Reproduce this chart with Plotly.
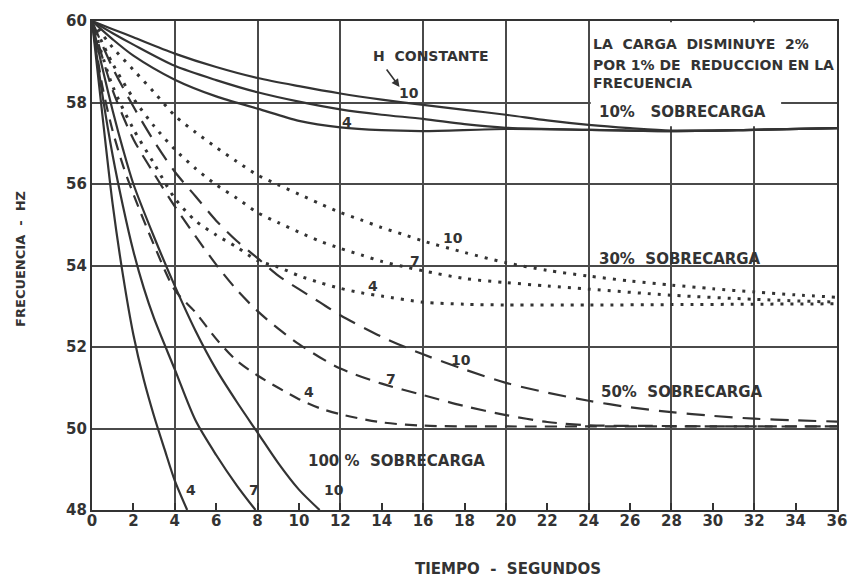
import plotly.graph_objects as go

# ---------------- data ----------------
x_tick_vals = [0, 2, 4, 6, 8, 10, 12, 14, 16, 18, 20, 22, 24, 26, 28, 30, 32, 34, 36]
x_tick_text = ["0", "2", "4", "6", "8", "10", "12", "14", "16", "18", "20", "22",
               "24", "26", "28", "30", "32", "34", "36"]
y_tick_vals = [48, 50, 52, 54, 56, 58, 60]
y_tick_text = ["48", "50", "52", "54", "56", "58", "60"]

# 10 % sobrecarga (solid)
t_10_h4 = [0, 1, 2, 4, 6, 8, 10, 12, 14, 16, 20, 24, 28, 32, 36]
f_10_h4 = [60, 59.55, 59.15, 58.56, 58.15, 57.85, 57.55, 57.39, 57.32, 57.3, 57.35, 57.33, 57.3, 57.33, 57.37]
t_10_h7 = [0, 1, 2, 4, 6, 8, 10, 12, 14, 16, 18, 20, 24, 28, 32, 36]
f_10_h7 = [60, 59.7, 59.42, 58.9, 58.55, 58.25, 58.02, 57.83, 57.7, 57.6, 57.47, 57.38, 57.33, 57.3, 57.33, 57.37]
t_10_h10 = [0, 1, 2, 4, 6, 8, 10, 12, 14, 16, 18, 20, 22, 24, 26, 28, 32, 36]
f_10_h10 = [60, 59.8, 59.6, 59.2, 58.87, 58.6, 58.4, 58.22, 58.07, 57.94, 57.82, 57.7, 57.56, 57.45, 57.37, 57.31, 57.33, 57.37]

# 30 % sobrecarga (dotted)
t_30_h4 = [0, 1, 2, 3, 4, 5, 6, 7, 8, 9, 10, 11, 12, 13, 14, 16, 18, 20, 24, 28, 32, 36]
f_30_h4 = [60, 58.4, 57.35, 56.5, 55.65, 55.1, 54.75, 54.45, 54.12, 53.96, 53.75, 53.58, 53.44, 53.33, 53.25,
           53.1, 53.05, 53.03, 53.03, 53.04, 53.05, 53.06]
t_30_h7 = [0, 1, 2, 3, 4, 5, 6, 7, 8, 9, 10, 11, 12, 13, 14, 15, 16, 18, 20, 22, 24, 28, 32, 36]
f_30_h7 = [60, 58.95, 58.1, 57.42, 56.85, 56.38, 55.98, 55.65, 55.3, 55.05, 54.82, 54.6, 54.42, 54.26, 54.1,
           53.98, 53.87, 53.68, 53.58, 53.5, 53.42, 53.27, 53.17, 53.1]
t_30_h10 = [0, 1, 2, 3, 4, 5, 6, 7, 8, 9, 10, 11, 12, 13, 14, 15, 16, 18, 20, 22, 24, 26, 28, 30, 32, 34, 36]
f_30_h10 = [60, 59.35, 58.8, 58.25, 57.68, 57.27, 56.9, 56.55, 56.22, 55.98, 55.75, 55.52, 55.3, 55.12, 54.93,
            54.77, 54.6, 54.32, 54.07, 53.88, 53.74, 53.62, 53.52, 53.43, 53.35, 53.28, 53.22]

# 50 % sobrecarga (dashed)
t_50_h4 = [0, 0.5, 1, 1.5, 2, 3, 4, 5, 6, 7, 8, 9, 10, 11, 12, 14, 16, 20, 24, 28, 32, 36]
f_50_h4 = [60, 58.4, 57.3, 56.45, 55.75, 54.5, 53.4, 52.85, 52.2, 51.66, 51.3, 51.0, 50.72, 50.5, 50.35,
           50.15, 50.07, 50.05, 50.05, 50.05, 50.05, 50.05]
t_50_h7 = [0, 1, 2, 3, 4, 5, 6, 7, 8, 9, 10, 11, 12, 14, 16, 18, 20, 22, 24, 28, 32, 36]
f_50_h7 = [60, 58.3, 57.1, 56.25, 55.45, 54.72, 54.02, 53.4, 52.88, 52.45, 52.07, 51.75, 51.47, 51.1,
           50.82, 50.55, 50.33, 50.16, 50.08, 50.06, 50.05, 50.05]
t_50_h10 = [0, 1, 2, 3, 4, 5, 6, 7, 8, 9, 10, 11, 12, 14, 16, 18, 20, 22, 24, 26, 28, 30, 32, 34, 36]
f_50_h10 = [60, 58.85, 57.9, 57.05, 56.3, 55.7, 55.1, 54.6, 54.18, 53.75, 53.42, 53.1, 52.78, 52.25,
            51.82, 51.45, 51.12, 50.88, 50.68, 50.52, 50.4, 50.31, 50.24, 50.2, 50.17]

# 100 % sobrecarga (solid)
t_100_h4 = [0, 0.5, 1.0, 1.5, 2.0, 2.5, 3.0, 3.5, 4.0, 4.6]
f_100_h4 = [60, 57.7, 55.5, 53.75, 52.3, 51.2, 50.3, 49.5, 48.72, 48.0]
t_100_h7 = [0, 0.5, 1.0, 1.5, 2.0, 2.5, 3.0, 4.0, 5.0, 6.0, 7.0, 7.9]
f_100_h7 = [60, 58.2, 56.7, 55.45, 54.35, 53.45, 52.7, 51.45, 50.2, 49.35, 48.6, 48.0]
t_100_h10 = [0, 0.5, 1, 1.5, 2, 3, 4, 5, 6, 7, 8, 9, 10, 11]
f_100_h10 = [60, 58.85, 57.8, 56.85, 56.0, 54.7, 53.5, 52.4, 51.45, 50.65, 49.9, 49.15, 48.5, 48.0]

# ---------------- styling ----------------
INK = "#333333"
GRID = "#4a4a4a"
FONT = "DejaVu Sans"

# (name, x, y, dash, width, x-axis)
curves = [
    ("10% H=4", t_10_h4, f_10_h4, "solid", 2.2, "x"),
    ("10% H=7", t_10_h7, f_10_h7, "solid", 2.2, "x"),
    ("10% H=10", t_10_h10, f_10_h10, "solid", 2.2, "x"),
    ("30% H=4", t_30_h4, f_30_h4, "3px,7px", 3, "x"),
    ("30% H=7", t_30_h7, f_30_h7, "3px,7px", 3, "x"),
    ("30% H=10", t_30_h10, f_30_h10, "3px,7px", 3, "x"),
    ("50% H=4", t_50_h4, f_50_h4, "12px,8px", 2.2, "x"),
    ("50% H=7", t_50_h7, f_50_h7, "15px,9px", 2.2, "x"),
    ("50% H=10", t_50_h10, f_50_h10, "18px,10px", 2.2, "x"),
    ("100% H=4", t_100_h4, f_100_h4, "solid", 2.2, "x2"),
    ("100% H=7", t_100_h7, f_100_h7, "solid", 2.2, "x2"),
    ("100% H=10", t_100_h10, f_100_h10, "solid", 2.2, "x2"),
]

fig = go.Figure()
for name, t, f, dash, w, xa in curves:
    fig.add_trace(go.Scatter(
        x=t, y=f, mode="lines", name=name, showlegend=False, xaxis=xa, yaxis="y",
        line=dict(color=INK, width=w, dash=dash, shape="spline", smoothing=0.8),
        hoverinfo="skip",
    ))

# white box behind the note in the upper-right corner (hides grid lines)
fig.add_shape(type="rect", xref="x", yref="y", x0=24.1, x1=33.3, y0=57.42, y1=59.97,
              fillcolor="white", line=dict(width=0), layer="between")

tick_font = dict(family=FONT, size=15, color=INK, weight="bold")
fig.update_layout(
    width=859, height=584,
    margin=dict(l=92, r=18, t=15, b=74),
    paper_bgcolor="white", plot_bgcolor="white",
    font=dict(family=FONT, color=INK),
    # primary x axis: grid every 4 s and the frame
    xaxis=dict(
        range=[0, 36], dtick=4, tick0=0, showticklabels=False, ticks="",
        showgrid=True, gridcolor=GRID, gridwidth=1.8, zeroline=False,
        showline=True, linewidth=2.2, linecolor=INK, mirror=True,
    ),
    # overlaid x axis: labels and small inside ticks every 2 s
    xaxis2=dict(
        range=[0, 36], overlaying="x", anchor="y", side="bottom",
        tickmode="array", tickvals=x_tick_vals, ticktext=x_tick_text,
        ticks="inside", ticklen=7, tickwidth=2, tickcolor=INK,
        showgrid=False, zeroline=False, showline=False,
        tickfont=tick_font, layer="above traces",
    ),
    yaxis=dict(
        range=[48, 60], tickmode="array", tickvals=y_tick_vals, ticktext=y_tick_text,
        ticks="", showgrid=True, gridcolor=GRID, gridwidth=1.8, zeroline=False,
        showline=True, linewidth=2.2, linecolor=INK, mirror=True,
        tickfont=tick_font,
    ),
)

# axis titles
fig.add_annotation(x=0.558, y=-0.12, xref="paper", yref="paper", yanchor="middle",
                   text="TIEMPO  -  SEGUNDOS", showarrow=False,
                   font=dict(family=FONT, size=15, color=INK, weight="bold"))
fig.add_annotation(x=-0.097, y=0.513, xref="paper", yref="paper", xanchor="center",
                   textangle=-90, text="FRECUENCIA  -  HZ", showarrow=False,
                   font=dict(family=FONT, size=13, color=INK, weight="bold"))

lab = dict(family=FONT, size=14, color=INK, weight="bold")
big = dict(family=FONT, size=15, color=INK, weight="bold")
notes = [
    # (x, y, text, font, xanchor)
    (13.5, 59.13, "H  CONSTANTE", lab, "left"),
    (15.3, 58.23, "10", lab, "center"),
    (12.3, 57.53, "4", lab, "center"),
    (24.1, 59.44, "LA  CARGA  DISMINUYE  2%", lab, "left"),
    (24.1, 58.93, "POR 1% DE  REDUCCION EN LA", lab, "left"),
    (24.1, 58.47, "FRECUENCIA", lab, "left"),
    (24.4, 57.76, "10%   SOBRECARGA", big, "left"),
    (17.45, 54.67, "10", lab, "center"),
    (15.6, 54.1, "7", lab, "center"),
    (13.6, 53.5, "4", lab, "center"),
    (24.4, 54.16, "30%  SOBRECARGA", big, "left"),
    (17.84, 51.68, "10", lab, "center"),
    (14.47, 51.22, "7", lab, "center"),
    (10.48, 50.9, "4", lab, "center"),
    (24.5, 50.9, "50%  SOBRECARGA", big, "left"),
    (10.34, 49.21, "100 %  SOBRECARGA", big, "left"),
    (4.76, 48.48, "4", lab, "center"),
    (7.84, 48.48, "7", lab, "center"),
    (11.68, 48.48, "10", lab, "center"),
]
for x, y, text, font, xa in notes:
    fig.add_annotation(x=x, y=y, xref="x", yref="y", text=text, showarrow=False,
                       font=font, xanchor=xa, yanchor="middle", align="left")

# small arrow from "H CONSTANTE" to the H = 10 curve label
fig.add_annotation(x=14.86, y=58.38, xref="x", yref="y", text="", showarrow=True,
                   arrowhead=2, arrowsize=1, arrowwidth=1.6, arrowcolor=INK,
                   ax=-14, ay=-19)

fig.write_html("out.html", config={"displayModeBar": False},
               post_script="document.body.style.margin='0px';")
